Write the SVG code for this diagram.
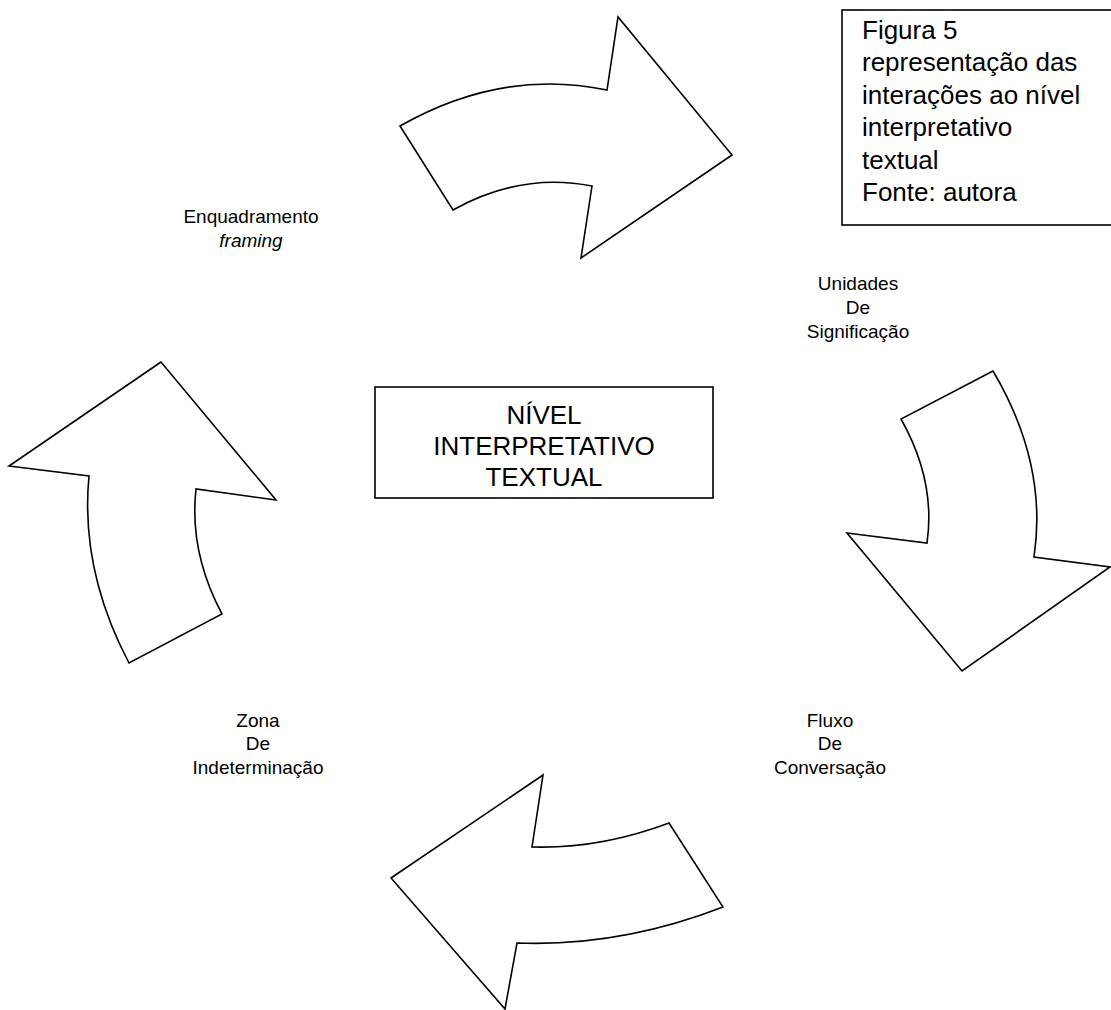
<svg xmlns="http://www.w3.org/2000/svg" width="1111" height="1010" viewBox="0 0 1111 1010">
<style>
.arrow{fill:#fff;stroke:#000;stroke-width:1.6;stroke-linejoin:miter}
.box{fill:#fff;stroke:#000;stroke-width:1.6}
.lbl{font-family:"Liberation Sans",Arial,sans-serif;font-size:19px;fill:#000;text-anchor:middle}
.cap{font-family:"Liberation Sans",Arial,sans-serif;font-size:26px;fill:#000}
.ctr{font-family:"Liberation Sans",Arial,sans-serif;font-size:26px;fill:#000;text-anchor:middle}
</style>
<rect width="1111" height="1010" fill="#fff"/>
<g id="connectors">
<path id="arrow-top" class="arrow" d="M400,126 Q502,68 607,90 L618,17 L732,155 L581,258 L592,186 Q521,172 453,210 Z"/>
<path id="arrow-right" class="arrow" d="M993,371 L901,419 Q936,481 927,543 L847,533 L962,671 L1110,567 L1034,557 Q1048,464 993,371 Z"/>
<path id="arrow-bottom" class="arrow" d="M669,823 L723,907 Q620,947 517,943 L505,1009 L391,878 L543,775 L532,847 Q600,849 669,823 Z"/>
<path id="arrow-left" class="arrow" d="M161,362 L9,466 L89,476 Q80,570 129,663 L222,614 Q189,552 196,489 L276,500 Z"/>
</g>
<g id="caption">
<rect class="box" x="842" y="10" width="275" height="215"/>
<text class="cap" x="862" y="39">Figura 5</text>
<text class="cap" x="862" y="71">representação das</text>
<text class="cap" x="862" y="104">interações ao nível</text>
<text class="cap" x="862" y="136">interpretativo</text>
<text class="cap" x="862" y="169">textual</text>
<text class="cap" x="862" y="201">Fonte: autora</text>
</g>
<g id="center">
<rect class="box" x="375" y="387" width="338" height="111"/>
<text class="ctr" x="544" y="424">NÍVEL</text>
<text class="ctr" x="544" y="455">INTERPRETATIVO</text>
<text class="ctr" x="544" y="486">TEXTUAL</text>
</g>
<g id="enquadramento">
<text class="lbl" x="251" y="223">Enquadramento</text>
<text class="lbl" x="251" y="247" font-style="italic">framing</text>
</g>
<g id="unidades">
<text class="lbl" x="858" y="290">Unidades</text>
<text class="lbl" x="858" y="314">De</text>
<text class="lbl" x="858" y="338">Significação</text>
</g>
<g id="zona">
<text class="lbl" x="258" y="727">Zona</text>
<text class="lbl" x="258" y="750">De</text>
<text class="lbl" x="258" y="774">Indeterminação</text>
</g>
<g id="fluxo">
<text class="lbl" x="830" y="727">Fluxo</text>
<text class="lbl" x="830" y="750">De</text>
<text class="lbl" x="830" y="774">Conversação</text>
</g>
</svg>
